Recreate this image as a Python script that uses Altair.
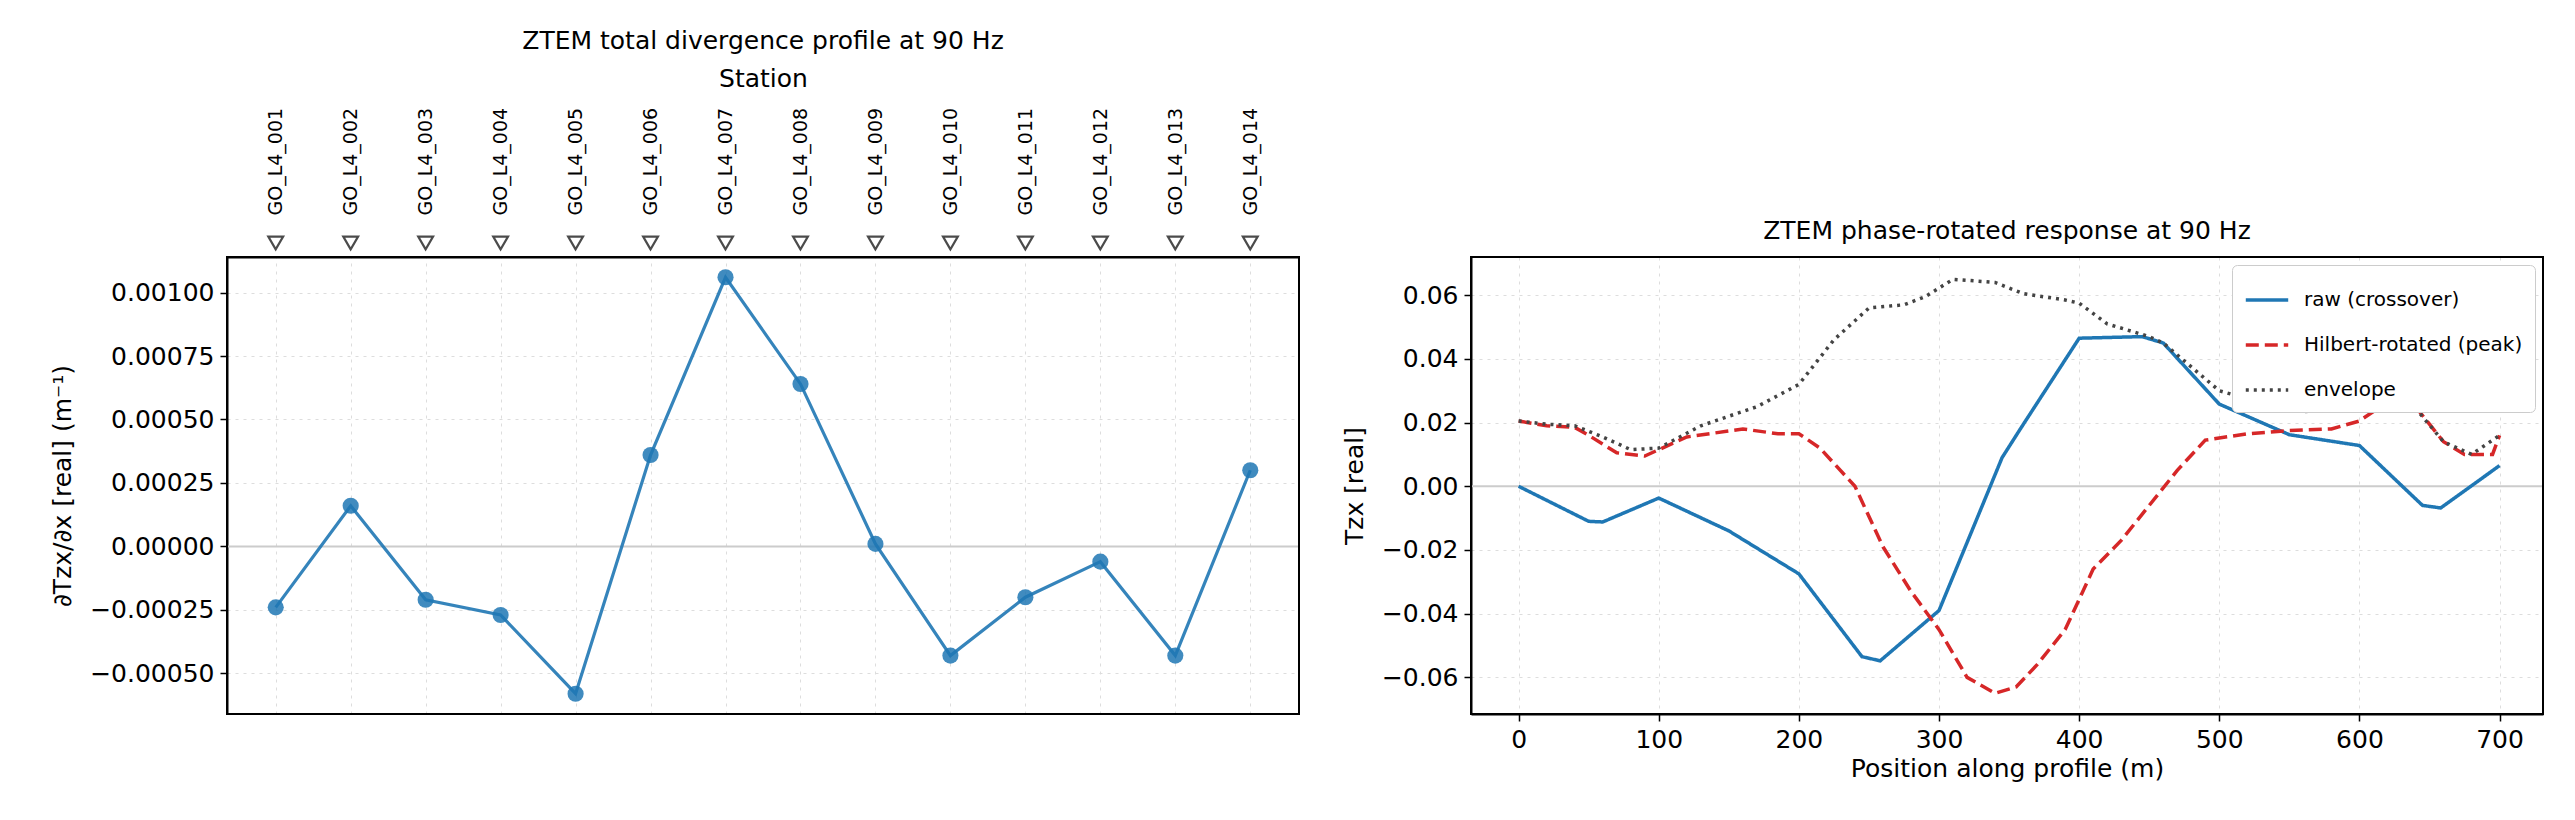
import altair as alt
import pandas as pd

stations = [f"GO_L4_{i:03d}" for i in range(1, 15)]
station_pos = [i * 50 for i in range(14)]
div_vals = [-0.00024, 0.00016, -0.00021, -0.00027, -0.00058, 0.00036, 0.00106,
            0.00064, 0.00001, -0.00043, -0.00020, -0.00006, -0.00043, 0.00030]

raw_x = [0, 50, 60, 100, 150, 200, 245, 258, 300, 345, 358, 400, 445, 460, 500, 550, 600, 645, 658, 700]
raw_y = [0, -0.011, -0.0112, -0.0037, -0.014, -0.0275, -0.0535, -0.0548, -0.039, 0.009, 0.018,
         0.0465, 0.047, 0.045, 0.0258, 0.0162, 0.0128, -0.006, -0.0068, 0.0065]
hil_x = [0, 20, 40, 50, 70, 90, 100, 120, 160, 185, 200, 215, 240, 260, 280, 300, 320, 340, 355, 370,
         390, 410, 430, 450, 470, 490, 520, 550, 580, 600, 620, 640, 660, 675, 695, 700]
hil_y = [0.0205, 0.019, 0.0185, 0.016, 0.0105, 0.0095, 0.0115, 0.0155, 0.018, 0.0165, 0.0165, 0.012,
         0.0, -0.019, -0.033, -0.045, -0.060, -0.065, -0.063, -0.056, -0.045, -0.026, -0.017, -0.006,
         0.005, 0.0145, 0.0165, 0.0175, 0.018, 0.0205, 0.0265, 0.025, 0.014, 0.010, 0.010, 0.016]
env_x = [0, 20, 40, 60, 80, 100, 130, 170, 200, 225, 250, 275, 290, 310, 340, 360, 390, 400, 420, 450,
         460, 500, 540, 560, 590, 610, 640, 660, 680, 700]
env_y = [0.0205, 0.0195, 0.019, 0.0155, 0.0115, 0.012, 0.019, 0.025, 0.032, 0.046, 0.056, 0.057, 0.0595,
         0.065, 0.064, 0.0605, 0.0585, 0.0575, 0.051, 0.047, 0.045, 0.030, 0.025, 0.0235, 0.024, 0.027,
         0.0245, 0.014, 0.010, 0.016]

names = ["raw (crossover)", "Hilbert-rotated (peak)", "envelope"]
rows = []
for n, xs, ys in zip(names, [raw_x, hil_x, env_x], [raw_y, hil_y, env_y]):
    for i, (a, b) in enumerate(zip(xs, ys)):
        rows.append({"series": n, "x": a, "y": b, "order": i})
df_r = pd.DataFrame(rows)
df_l = pd.DataFrame({"station": stations, "pos": station_pos, "val": div_vals})

W, H = 1072, 457
FONT = "DejaVu Sans"
FS = 25
grid = dict(grid=True, gridDash=[3, 5], gridColor="#dddddd", domainColor="black",
            tickColor="black", labelColor="black", titleColor="black", labelFontSize=FS,
            titleFontSize=FS, titleFontWeight="normal", labelFont=FONT, titleFont=FONT,
            tickSize=7, tickWidth=1.5, labelPadding=6, domainWidth=2)

lab_expr = "['" + "','".join(stations) + "'][round(datum.value/50)]"
xl = alt.X("pos:Q", scale=alt.Scale(domain=[-32.5, 682.5], nice=False, zero=False),
           axis=alt.Axis(orient="top", values=station_pos, labelExpr=lab_expr, labelAngle=-90,
                         labelFontSize=19, tickSize=0, labelPadding=42, title="Station",
                         titleFontSize=FS, titleFontWeight="normal", titleFont=FONT,
                         labelFont=FONT, grid=True, gridDash=[3, 5], gridColor="#dddddd",
                         domainColor="black", domainWidth=2, labelColor="black", titleColor="black",
                         titlePadding=16))
yl = alt.Y("val:Q", scale=alt.Scale(domain=[-0.00066, 0.00114], nice=False),
           axis=alt.Axis(format=".5f", values=[-0.0005, -0.00025, 0, 0.00025, 0.0005, 0.00075, 0.001],
                         title="∂Tzx/∂x  [real]  (m⁻¹)", titlePadding=14, **grid))


def frame():
    return alt.Chart(pd.DataFrame({"f": [0]})).mark_rect(
        fillOpacity=0, stroke="black", strokeWidth=2).encode(
        x=alt.value(0), x2=alt.value(W), y=alt.value(0), y2=alt.value(H))


base_l = alt.Chart(df_l)
zero_l = alt.Chart(pd.DataFrame({"z": [0]})).mark_rule(color="#cccccc", strokeWidth=2).encode(y="z:Q")
line_l = base_l.mark_line(color="#1f77b4", opacity=0.9, strokeWidth=3.2).encode(x=xl, y=yl)
pts_l = base_l.mark_circle(color="#1f77b4", opacity=0.85, size=260).encode(x="pos:Q", y="val:Q")
tri = base_l.mark_point(shape="triangle-down", filled=False, color="black", size=220,
                        strokeWidth=2.2, clip=False).encode(x="pos:Q", y=alt.value(-14))
left = alt.layer(zero_l, line_l, pts_l, tri, frame()).properties(
    width=W, height=H,
    title=alt.TitleParams("ZTEM total divergence profile at 90 Hz", fontSize=FS,
                          fontWeight="normal", font=FONT, offset=12))

zero_r = alt.Chart(pd.DataFrame({"z": [0]})).mark_rule(color="#cccccc", strokeWidth=2).encode(y="z:Q")
lines_r = alt.Chart(df_r).mark_line(strokeWidth=3.5).encode(
    x=alt.X("x:Q", scale=alt.Scale(domain=[-34, 731], nice=False),
            axis=alt.Axis(values=list(range(0, 701, 100)), title="Position along profile (m)", **grid)),
    y=alt.Y("y:Q", scale=alt.Scale(domain=[-0.0715, 0.072], nice=False),
            axis=alt.Axis(format=".2f", values=[-0.06, -0.04, -0.02, 0, 0.02, 0.04, 0.06],
                          title="Tzx  [real]", titlePadding=14, **grid)),
    color=alt.Color("series:N", scale=alt.Scale(domain=names, range=["#1f77b4", "#d62728", "#444444"]),
                    legend=alt.Legend(title=None, orient="top-right", fillColor="white",
                                      strokeColor="#cccccc", padding=12, labelFontSize=20,
                                      labelFont=FONT, labelLimit=400, symbolType="stroke",
                                      symbolStrokeWidth=3.5, symbolSize=1800, cornerRadius=5,
                                      offset=8, rowPadding=12, labelOffset=14)),
    strokeDash=alt.StrokeDash("series:N", scale=alt.Scale(domain=names, range=[[1, 0], [13, 6], [3, 5]]),
                              legend=None),
    order="order:Q")
right = alt.layer(zero_r, lines_r, frame()).properties(
    width=W, height=H,
    title=alt.TitleParams("ZTEM phase-rotated response at 90 Hz", fontSize=FS,
                          fontWeight="normal", font=FONT, offset=12))

chart = alt.hconcat(left, right, spacing=40).resolve_scale(
    color="independent", strokeDash="independent").properties(
    padding={"left": 42, "top": 20, "right": 5, "bottom": 5}).configure_view(
    stroke="black", strokeWidth=2).configure(background="white")
chart.save("out.html", embed_options={"renderer": "svg", "actions": False})
